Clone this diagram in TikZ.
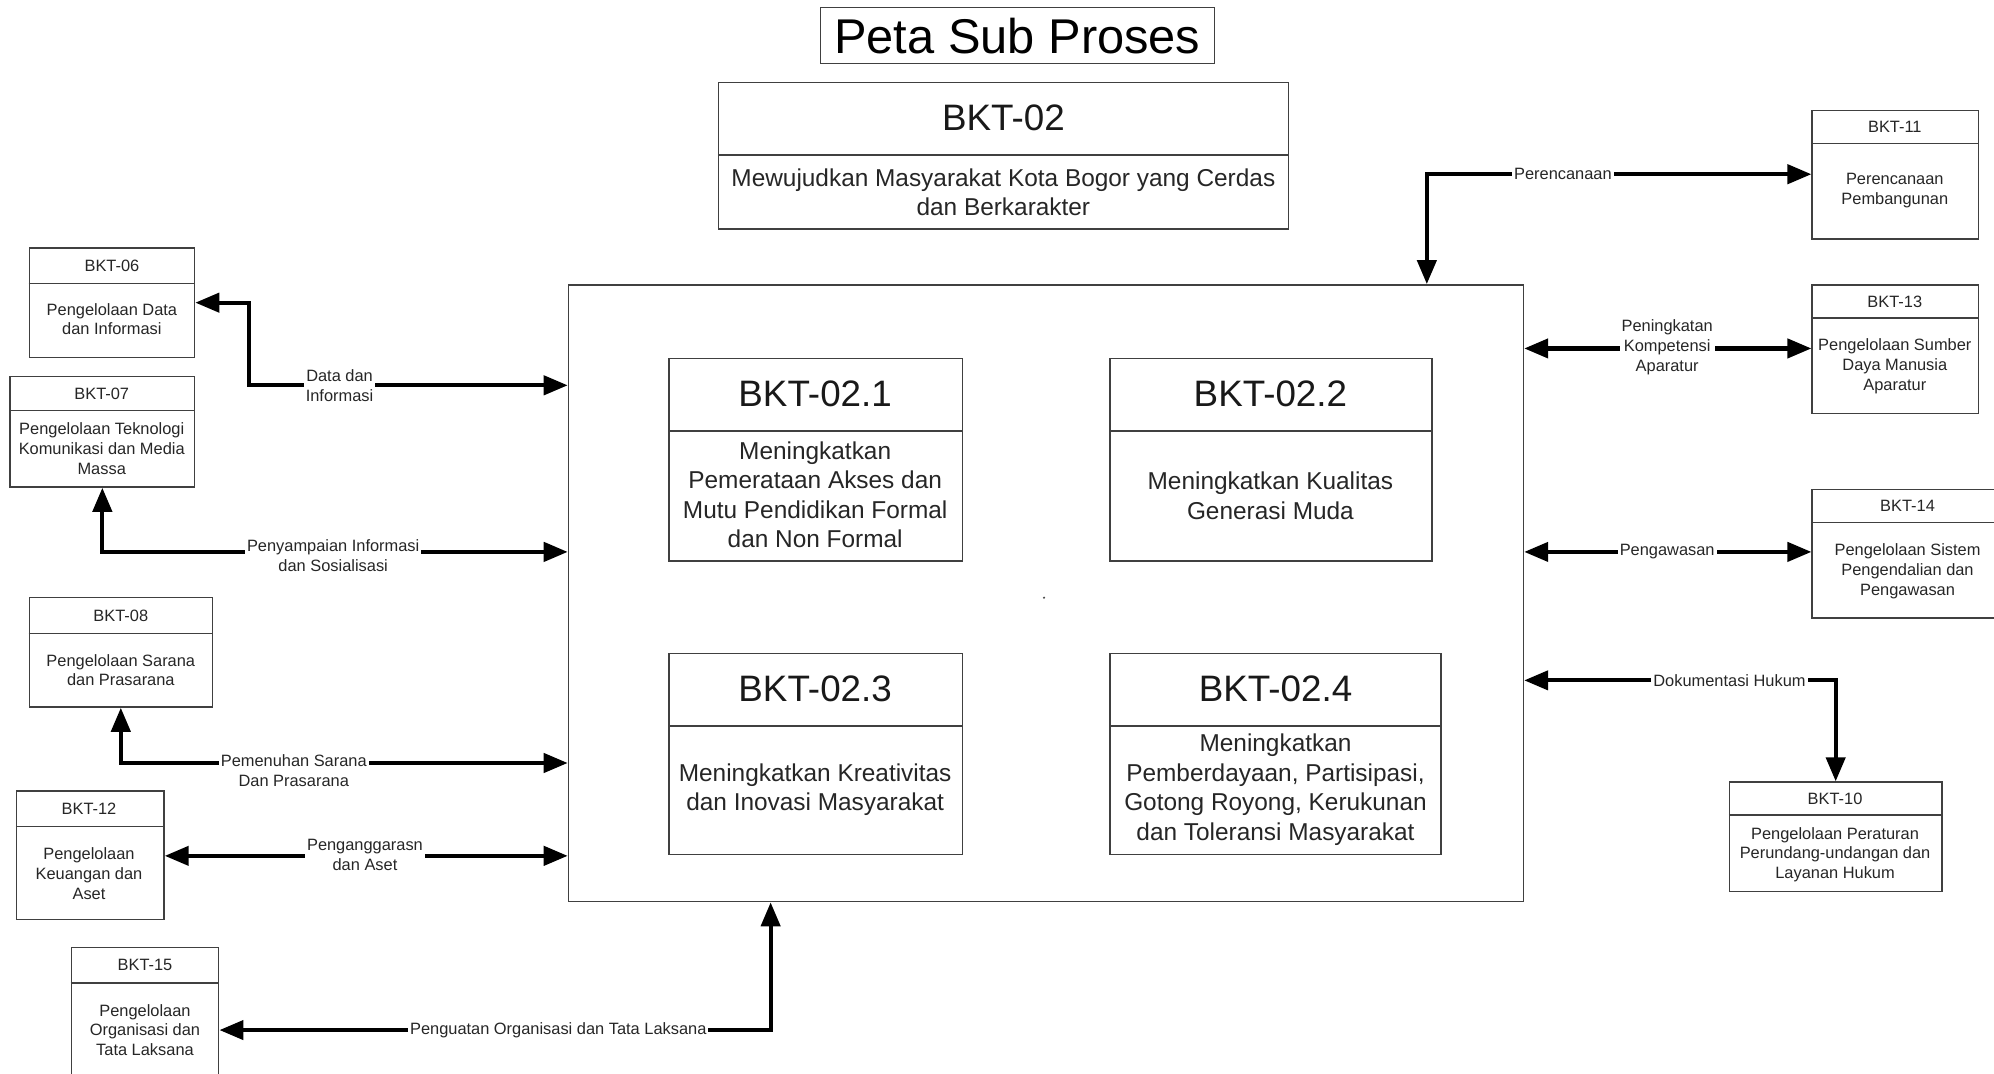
\documentclass[tikz,border=0pt]{standalone}
\usepackage{fontspec}
\setmainfont{Liberation Sans}
\usetikzlibrary{arrows.meta,fit}

% text sizes
\newcommand\fntS{\fontsize{8.2}{9.9}\selectfont}
\newcommand\fntM{\fontsize{12.2}{14.7}\selectfont}
\newcommand\fntL{\fontsize{18.4}{22}\selectfont}
\newcommand\fntT{\fontsize{24.4}{29}\selectfont}

% a framed box with a header divider: name, x1, y1, x2, y2, divider y
\newcommand\bkbox[6]{%
  \node[frame, fit={(#2,#3) (#4,#5)}] (#1) {};
  \draw[divider] (#1.west |- 0,#6) -- (#1.east |- 0,#6);}

\begin{document}
\begin{tikzpicture}[x=0.63585pt, y=-0.63585pt,
  frame/.style={draw=black!75, line width=0.7pt, inner sep=0pt},
  divider/.style={draw=black!75, line width=0.7pt},
  conn/.style={line width=2.1pt, draw=black,
    {Triangle[length=12pt,width=9.5pt]}-{Triangle[length=12pt,width=9.5pt]}},
  stitle/.style={font=\fntS, text=black!85, inner sep=0pt},
  sbody/.style={font=\fntS, text=black!85, align=center, inner sep=0pt},
  ltitle/.style={font=\fntL, text=black!90, inner sep=0pt},
  lbody/.style={font=\fntM, text=black!85, align=center, inner sep=0pt},
  lbl/.style={font=\fntS, text=black!85, align=center, fill=white, inner sep=1pt}
]
\useasboundingbox (0,0) rectangle (1568,844);
\fill[white] (0,0) rectangle (1568,844);

% heading
\node[frame, fit={(645,6) (955,50)}] (head) {};
\node[font=\fntT, inner sep=0pt] (headt) at (800,28) {Peta Sub Proses};

% parent process
\bkbox{b02}{565}{65}{1013}{180}{122}
\node[ltitle] (b02t) at (789,93) {BKT-02};
\node[lbody] (b02d) at (789,151) {Mewujudkan Masyarakat Kota Bogor yang Cerdas\\dan Berkarakter};

% sub-process container
\node[frame, fit={(447,224) (1198,709)}] (main) {};
\fill[black!70] (821,470) circle (0.9);

\bkbox{s1}{526}{282}{757}{441}{339}
\node[ltitle] (s1t) at (641,310) {BKT-02.1};
\node[lbody] (s1d) at (641,389) {Meningkatkan\\Pemerataan Akses dan\\Mutu Pendidikan Formal\\dan Non Formal};

\bkbox{s2}{873}{282}{1126}{441}{339}
\node[ltitle] (s2t) at (999,310) {BKT-02.2};
\node[lbody] (s2d) at (999,390) {Meningkatkan Kualitas\\Generasi Muda};

\bkbox{s3}{526}{514}{757}{672}{571}
\node[ltitle] (s3t) at (641,542) {BKT-02.3};
\node[lbody] (s3d) at (641,621) {Meningkatkan Kreativitas\\dan Inovasi Masyarakat};

\bkbox{s4}{873}{514}{1133}{672}{571}
\node[ltitle] (s4t) at (1003,542) {BKT-02.4};
\node[lbody] (s4d) at (1003,621) {Meningkatkan\\Pemberdayaan, Partisipasi,\\Gotong Royong, Kerukunan\\dan Toleransi Masyarakat};

% related processes, left side
\bkbox{b06}{23}{195}{153}{281}{223}
\node[stitle] (b06t) at (88,209) {BKT-06};
\node[sbody] (b06d) at (88,251) {Pengelolaan Data\\dan Informasi};

\bkbox{b07}{8}{296}{153}{383}{323}
\node[stitle] (b07t) at (80,310) {BKT-07};
\node[sbody] (b07d) at (80,353) {Pengelolaan Teknologi\\Komunikasi dan Media\\Massa};

\bkbox{b08}{23}{470}{167}{556}{498}
\node[stitle] (b08t) at (95,484) {BKT-08};
\node[sbody] (b08d) at (95,527) {Pengelolaan Sarana\\dan Prasarana};

\bkbox{b12}{13}{622}{129}{723}{650}
\node[stitle] (b12t) at (70,636) {BKT-12};
\node[sbody] (b12d) at (70,687) {Pengelolaan\\Keuangan dan\\Aset};

\bkbox{b15}{56}{745}{172}{852}{773}
\node[stitle] (b15t) at (114,759) {BKT-15};
\node[sbody] (b15d) at (114,810) {Pengelolaan\\Organisasi dan\\Tata Laksana};

% related processes, right side
\bkbox{b11}{1425}{87}{1556}{188}{113}
\node[stitle] (b11t) at (1490,100) {BKT-11};
\node[sbody] (b11d) at (1490,150) {Perencanaan\\Pembangunan};

\bkbox{b13}{1425}{224}{1556}{325}{250}
\node[stitle] (b13t) at (1490,237) {BKT-13};
\node[sbody] (b13d) at (1490,288) {Pengelolaan Sumber\\Daya Manusia\\Aparatur};

\bkbox{b14}{1425}{385}{1578}{486}{411}
\node[stitle] (b14t) at (1500,398) {BKT-14};
\node[sbody] (b14d) at (1500,449) {Pengelolaan Sistem\\Pengendalian dan\\Pengawasan};

\bkbox{b10}{1360}{615}{1527}{701}{641}
\node[stitle] (b10t) at (1443,628) {BKT-10};
\node[sbody] (b10d) at (1443,672) {Pengelolaan Peraturan\\Perundang-undangan dan\\Layanan Hukum};

% connectors
\draw[conn] (b06.east |- 0,238) -| (196,303) -- (main.west |- 0,303);
\draw[conn] (b07.south) |- (main.west |- 0,434);
\draw[conn] (b08.south) |- (main.west |- 0,600);
\draw[conn] (b12.east |- 0,673) -- (main.west |- 0,673);
\draw[conn] (b15.east |- 0,810) -| (main.south -| 606,0);
\draw[conn] (main.north -| 1122,0) |- (b11.west |- 0,137);
\draw[conn] (main.east |- 0,274) -- (b13.west |- 0,274);
\draw[conn] (main.east |- 0,434) -- (b14.west |- 0,434);
\draw[conn] (main.east |- 0,535) -| (b10.north);

% connector labels
\node[lbl] (l1) at (267,303) {Data dan\\Informasi};
\node[lbl] (l2) at (262,437) {Penyampaian Informasi\\dan Sosialisasi};
\node[lbl] (l3) at (231,606) {Pemenuhan Sarana\\Dan Prasarana};
\node[lbl] (l4) at (287,672) {Penganggarasn\\dan Aset};
\node[lbl] (l5) at (439,810) {Penguatan Organisasi dan Tata Laksana};
\node[lbl] (l6) at (1229,137) {Perencanaan};
\node[lbl] (l7) at (1311,273) {Peningkatan\\Kompetensi\\Aparatur};
\node[lbl] (l8) at (1311,434) {Pengawasan};
\node[lbl] (l9) at (1360,535) {Dokumentasi Hukum};
\end{tikzpicture}
\end{document}
